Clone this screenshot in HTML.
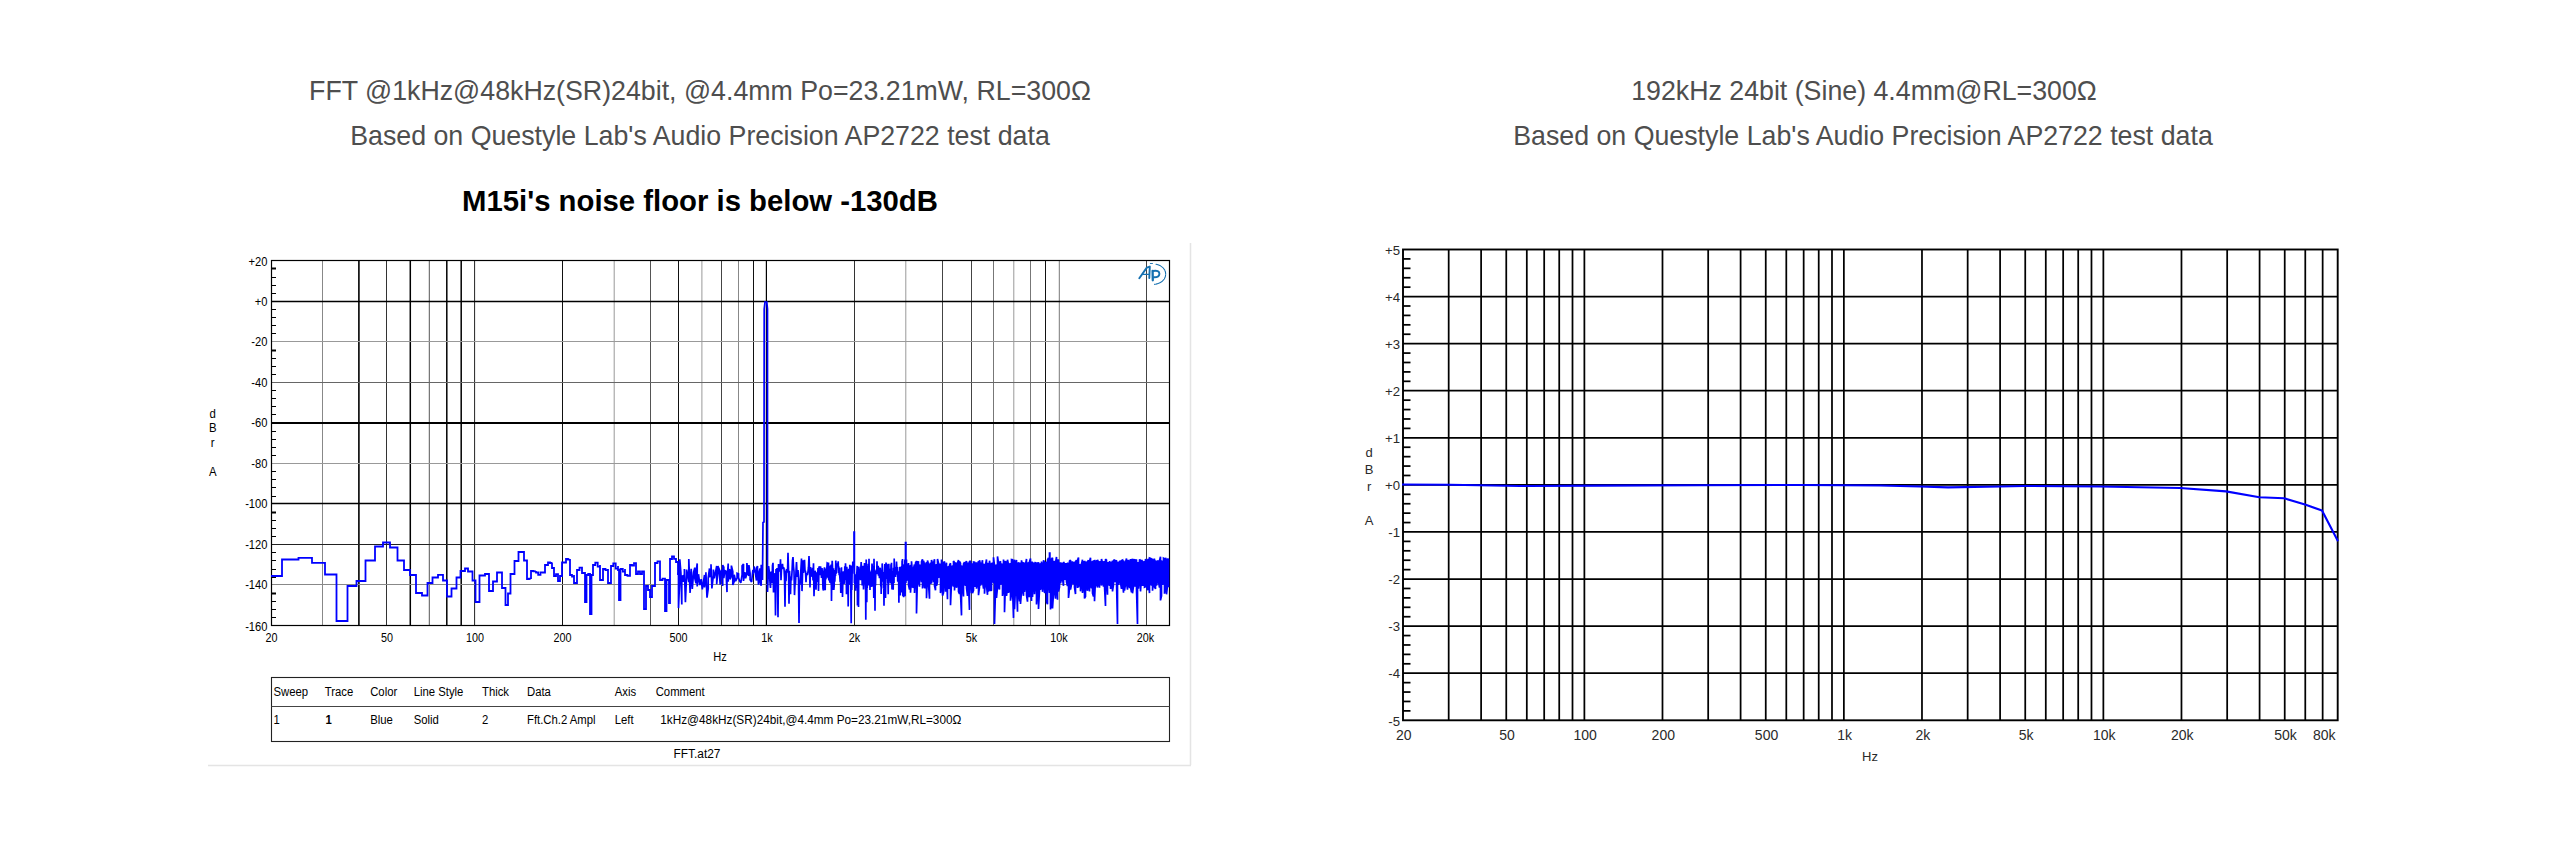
<!DOCTYPE html>
<html><head><meta charset="utf-8"><title>M15i measurements</title>
<style>
html,body{margin:0;padding:0;background:#fff;}
body{width:2560px;height:849px;position:relative;overflow:hidden;font-family:"Liberation Sans",sans-serif;}
.t{position:absolute;white-space:nowrap;color:#4e4e4e;font-size:26.75px;line-height:30px;text-align:center;}
.b{position:absolute;white-space:nowrap;color:#000;font-size:29.3px;font-weight:bold;line-height:34px;text-align:center;}
svg{position:absolute;left:0;top:0;}
svg text{font-family:"Liberation Sans",sans-serif;}
</style></head><body>
<div class="t m" id="t1" style="left:200px;width:1000px;top:76px">FFT @1kHz@48kHz(SR)24bit, @4.4mm Po=23.21mW, RL=300Ω</div>
<div class="t m" id="t2" style="left:200px;width:1000px;top:121px">Based on Questyle Lab's Audio Precision AP2722 test data</div>
<div class="b m" id="t3" style="left:200px;width:1000px;top:184px">M15i's noise floor is below -130dB</div>
<div class="t m" id="t4" style="left:1364px;width:1000px;top:76px">192kHz 24bit (Sine) 4.4mm@RL=300Ω</div>
<div class="t m" id="t5" style="left:1363px;width:1000px;top:121px">Based on Questyle Lab's Audio Precision AP2722 test data</div>
<svg width="2560" height="849" viewBox="0 0 2560 849">
<line x1="208" y1="765.5" x2="1191" y2="765.5" stroke="#e4e4e4" stroke-width="1.5"/>
<line x1="1190.5" y1="243" x2="1190.5" y2="765" stroke="#e4e4e4" stroke-width="1.5"/>
<line x1="322.5" y1="260.5" x2="322.5" y2="625.5" stroke="#888" stroke-width="1"/>
<line x1="358.9" y1="260.5" x2="358.9" y2="625.5" stroke="#000" stroke-width="1.6"/>
<line x1="386.5" y1="260.5" x2="386.5" y2="625.5" stroke="#333" stroke-width="1"/>
<line x1="410.3" y1="260.5" x2="410.3" y2="625.5" stroke="#000" stroke-width="1.5"/>
<line x1="429.3" y1="260.5" x2="429.3" y2="625.5" stroke="#555" stroke-width="1"/>
<line x1="446.8" y1="260.5" x2="446.8" y2="625.5" stroke="#000" stroke-width="1.5"/>
<line x1="461.2" y1="260.5" x2="461.2" y2="625.5" stroke="#000" stroke-width="1.5"/>
<line x1="474.6" y1="260.5" x2="474.6" y2="625.5" stroke="#222" stroke-width="1"/>
<line x1="562.5" y1="260.5" x2="562.5" y2="625.5" stroke="#111" stroke-width="1"/>
<line x1="614.2" y1="260.5" x2="614.2" y2="625.5" stroke="#999" stroke-width="1"/>
<line x1="650.5" y1="260.5" x2="650.5" y2="625.5" stroke="#555" stroke-width="1"/>
<line x1="678.5" y1="260.5" x2="678.5" y2="625.5" stroke="#111" stroke-width="1"/>
<line x1="701.9" y1="260.5" x2="701.9" y2="625.5" stroke="#999" stroke-width="1"/>
<line x1="721.5" y1="260.5" x2="721.5" y2="625.5" stroke="#444" stroke-width="1"/>
<line x1="738.5" y1="260.5" x2="738.5" y2="625.5" stroke="#888" stroke-width="1"/>
<line x1="753.5" y1="260.5" x2="753.5" y2="625.5" stroke="#111" stroke-width="1"/>
<line x1="766.4" y1="260.5" x2="766.4" y2="625.5" stroke="#000" stroke-width="1.2"/>
<line x1="854.5" y1="260.5" x2="854.5" y2="625.5" stroke="#333" stroke-width="1"/>
<line x1="905.8" y1="260.5" x2="905.8" y2="625.5" stroke="#999" stroke-width="1"/>
<line x1="942.5" y1="260.5" x2="942.5" y2="625.5" stroke="#444" stroke-width="1"/>
<line x1="971.5" y1="260.5" x2="971.5" y2="625.5" stroke="#444" stroke-width="1"/>
<line x1="993.5" y1="260.5" x2="993.5" y2="625.5" stroke="#777" stroke-width="1"/>
<line x1="1013.8" y1="260.5" x2="1013.8" y2="625.5" stroke="#999" stroke-width="1"/>
<line x1="1030.5" y1="260.5" x2="1030.5" y2="625.5" stroke="#777" stroke-width="1"/>
<line x1="1045.5" y1="260.5" x2="1045.5" y2="625.5" stroke="#111" stroke-width="1"/>
<line x1="1059.3" y1="260.5" x2="1059.3" y2="625.5" stroke="#777" stroke-width="1"/>
<line x1="1146.5" y1="260.5" x2="1146.5" y2="625.5" stroke="#444" stroke-width="1"/>
<line x1="271.5" y1="301.5" x2="1169.5" y2="301.5" stroke="#000" stroke-width="1.3"/>
<line x1="271.5" y1="341.5" x2="1169.5" y2="341.5" stroke="#999" stroke-width="1"/>
<line x1="271.5" y1="382.5" x2="1169.5" y2="382.5" stroke="#666" stroke-width="1"/>
<line x1="271.5" y1="423" x2="1169.5" y2="423" stroke="#000" stroke-width="2"/>
<line x1="271.5" y1="463.5" x2="1169.5" y2="463.5" stroke="#999" stroke-width="1"/>
<line x1="271.5" y1="503.5" x2="1169.5" y2="503.5" stroke="#000" stroke-width="1.5"/>
<line x1="271.5" y1="544.5" x2="1169.5" y2="544.5" stroke="#222" stroke-width="1"/>
<line x1="271.5" y1="584.5" x2="1169.5" y2="584.5" stroke="#888" stroke-width="1.2"/>
<line x1="271.5" y1="268.5" x2="276" y2="268.5" stroke="#000" stroke-width="2"/>
<line x1="271.5" y1="277.5" x2="276" y2="277.5" stroke="#000" stroke-width="1"/>
<line x1="271.5" y1="285.5" x2="276" y2="285.5" stroke="#000" stroke-width="1"/>
<line x1="271.5" y1="293.5" x2="276" y2="293.5" stroke="#000" stroke-width="1"/>
<line x1="271.5" y1="309.5" x2="276" y2="309.5" stroke="#000" stroke-width="1"/>
<line x1="271.5" y1="317.5" x2="276" y2="317.5" stroke="#000" stroke-width="1"/>
<line x1="271.5" y1="325.5" x2="276" y2="325.5" stroke="#000" stroke-width="1"/>
<line x1="271.5" y1="333.5" x2="276" y2="333.5" stroke="#000" stroke-width="1"/>
<line x1="271.5" y1="350.5" x2="276" y2="350.5" stroke="#000" stroke-width="2"/>
<line x1="271.5" y1="358.5" x2="276" y2="358.5" stroke="#000" stroke-width="1"/>
<line x1="271.5" y1="366.5" x2="276" y2="366.5" stroke="#000" stroke-width="1"/>
<line x1="271.5" y1="374.5" x2="276" y2="374.5" stroke="#000" stroke-width="1"/>
<line x1="271.5" y1="390.5" x2="276" y2="390.5" stroke="#000" stroke-width="1"/>
<line x1="271.5" y1="398.5" x2="276" y2="398.5" stroke="#000" stroke-width="1"/>
<line x1="271.5" y1="406.5" x2="276" y2="406.5" stroke="#000" stroke-width="1"/>
<line x1="271.5" y1="414.5" x2="276" y2="414.5" stroke="#000" stroke-width="1"/>
<line x1="271.5" y1="431.5" x2="276" y2="431.5" stroke="#000" stroke-width="1"/>
<line x1="271.5" y1="439.5" x2="276" y2="439.5" stroke="#000" stroke-width="1"/>
<line x1="271.5" y1="447.5" x2="276" y2="447.5" stroke="#000" stroke-width="1"/>
<line x1="271.5" y1="455.5" x2="276" y2="455.5" stroke="#000" stroke-width="1"/>
<line x1="271.5" y1="471.5" x2="276" y2="471.5" stroke="#000" stroke-width="1"/>
<line x1="271.5" y1="479.5" x2="276" y2="479.5" stroke="#000" stroke-width="1"/>
<line x1="271.5" y1="487.5" x2="276" y2="487.5" stroke="#000" stroke-width="1"/>
<line x1="271.5" y1="496.5" x2="276" y2="496.5" stroke="#000" stroke-width="1"/>
<line x1="271.5" y1="512.5" x2="276" y2="512.5" stroke="#000" stroke-width="2"/>
<line x1="271.5" y1="520.5" x2="276" y2="520.5" stroke="#000" stroke-width="1"/>
<line x1="271.5" y1="528.5" x2="276" y2="528.5" stroke="#000" stroke-width="1"/>
<line x1="271.5" y1="536.5" x2="276" y2="536.5" stroke="#000" stroke-width="1"/>
<line x1="271.5" y1="552.5" x2="276" y2="552.5" stroke="#000" stroke-width="1"/>
<line x1="271.5" y1="560.5" x2="276" y2="560.5" stroke="#000" stroke-width="1"/>
<line x1="271.5" y1="569.5" x2="276" y2="569.5" stroke="#000" stroke-width="1"/>
<line x1="271.5" y1="577.5" x2="276" y2="577.5" stroke="#000" stroke-width="1"/>
<line x1="271.5" y1="593.5" x2="276" y2="593.5" stroke="#000" stroke-width="2"/>
<line x1="271.5" y1="601.5" x2="276" y2="601.5" stroke="#000" stroke-width="1"/>
<line x1="271.5" y1="609.5" x2="276" y2="609.5" stroke="#000" stroke-width="1"/>
<line x1="271.5" y1="617.5" x2="276" y2="617.5" stroke="#000" stroke-width="1"/>
<rect x="271.5" y="260.5" width="898.0" height="365.0" fill="none" stroke="#000" stroke-width="1.2"/>
<text x="267.50" y="266.00" font-size="12" text-anchor="end" fill="#000" font-weight="normal" textLength="18.93" lengthAdjust="spacingAndGlyphs">+20</text>
<text x="267.50" y="305.50" font-size="12" text-anchor="end" fill="#000" font-weight="normal" textLength="12.72" lengthAdjust="spacingAndGlyphs">+0</text>
<text x="267.50" y="346.00" font-size="12" text-anchor="end" fill="#000" font-weight="normal" textLength="16.13" lengthAdjust="spacingAndGlyphs">-20</text>
<text x="267.50" y="386.50" font-size="12" text-anchor="end" fill="#000" font-weight="normal" textLength="16.13" lengthAdjust="spacingAndGlyphs">-40</text>
<text x="267.50" y="427.00" font-size="12" text-anchor="end" fill="#000" font-weight="normal" textLength="16.13" lengthAdjust="spacingAndGlyphs">-60</text>
<text x="267.50" y="467.50" font-size="12" text-anchor="end" fill="#000" font-weight="normal" textLength="16.13" lengthAdjust="spacingAndGlyphs">-80</text>
<text x="267.50" y="508.00" font-size="12" text-anchor="end" fill="#000" font-weight="normal" textLength="22.34" lengthAdjust="spacingAndGlyphs">-100</text>
<text x="267.50" y="548.50" font-size="12" text-anchor="end" fill="#000" font-weight="normal" textLength="22.34" lengthAdjust="spacingAndGlyphs">-120</text>
<text x="267.50" y="589.00" font-size="12" text-anchor="end" fill="#000" font-weight="normal" textLength="22.34" lengthAdjust="spacingAndGlyphs">-140</text>
<text x="267.50" y="630.50" font-size="12" text-anchor="end" fill="#000" font-weight="normal" textLength="22.34" lengthAdjust="spacingAndGlyphs">-160</text>
<text x="271.50" y="641.60" font-size="12" text-anchor="middle" fill="#000" font-weight="normal" textLength="12.01" lengthAdjust="spacingAndGlyphs">20</text>
<text x="387.00" y="641.60" font-size="12" text-anchor="middle" fill="#000" font-weight="normal" textLength="12.01" lengthAdjust="spacingAndGlyphs">50</text>
<text x="475.00" y="641.60" font-size="12" text-anchor="middle" fill="#000" font-weight="normal" textLength="18.02" lengthAdjust="spacingAndGlyphs">100</text>
<text x="562.50" y="641.60" font-size="12" text-anchor="middle" fill="#000" font-weight="normal" textLength="18.02" lengthAdjust="spacingAndGlyphs">200</text>
<text x="678.50" y="641.60" font-size="12" text-anchor="middle" fill="#000" font-weight="normal" textLength="18.02" lengthAdjust="spacingAndGlyphs">500</text>
<text x="767.00" y="641.60" font-size="12" text-anchor="middle" fill="#000" font-weight="normal" textLength="11.41" lengthAdjust="spacingAndGlyphs">1k</text>
<text x="854.50" y="641.60" font-size="12" text-anchor="middle" fill="#000" font-weight="normal" textLength="11.41" lengthAdjust="spacingAndGlyphs">2k</text>
<text x="971.50" y="641.60" font-size="12" text-anchor="middle" fill="#000" font-weight="normal" textLength="11.41" lengthAdjust="spacingAndGlyphs">5k</text>
<text x="1059.00" y="641.60" font-size="12" text-anchor="middle" fill="#000" font-weight="normal" textLength="17.41" lengthAdjust="spacingAndGlyphs">10k</text>
<text x="1145.50" y="641.60" font-size="12" text-anchor="middle" fill="#000" font-weight="normal" textLength="17.41" lengthAdjust="spacingAndGlyphs">20k</text>
<text x="720.00" y="661.00" font-size="12" text-anchor="middle" fill="#000" font-weight="normal" textLength="13.49" lengthAdjust="spacingAndGlyphs">Hz</text>
<text x="212.70" y="417.50" font-size="12" text-anchor="middle" fill="#000" font-weight="normal" textLength="6.34" lengthAdjust="spacingAndGlyphs">d</text>
<text x="212.70" y="432.30" font-size="12" text-anchor="middle" fill="#000" font-weight="normal" textLength="7.60" lengthAdjust="spacingAndGlyphs">B</text>
<text x="212.70" y="447.00" font-size="12" text-anchor="middle" fill="#000" font-weight="normal" textLength="3.80" lengthAdjust="spacingAndGlyphs">r</text>
<text x="212.70" y="476.30" font-size="12" text-anchor="middle" fill="#000" font-weight="normal" textLength="7.60" lengthAdjust="spacingAndGlyphs">A</text>
<rect x="271.5" y="677.5" width="898" height="64" fill="none" stroke="#222" stroke-width="1.1"/>
<line x1="271.5" y1="706.5" x2="1169.5" y2="706.5" stroke="#444" stroke-width="1.1"/>
<text x="273.50" y="696.00" font-size="12.3" text-anchor="start" fill="#000" font-weight="normal" textLength="34.60" lengthAdjust="spacingAndGlyphs">Sweep</text>
<text x="324.80" y="696.00" font-size="12.3" text-anchor="start" fill="#000" font-weight="normal" textLength="28.51" lengthAdjust="spacingAndGlyphs">Trace</text>
<text x="370.20" y="696.00" font-size="12.3" text-anchor="start" fill="#000" font-weight="normal" textLength="27.04" lengthAdjust="spacingAndGlyphs">Color</text>
<text x="413.70" y="696.00" font-size="12.3" text-anchor="start" fill="#000" font-weight="normal" textLength="49.70" lengthAdjust="spacingAndGlyphs">Line Style</text>
<text x="482.00" y="696.00" font-size="12.3" text-anchor="start" fill="#000" font-weight="normal" textLength="27.04" lengthAdjust="spacingAndGlyphs">Thick</text>
<text x="527.00" y="696.00" font-size="12.3" text-anchor="start" fill="#000" font-weight="normal" textLength="23.90" lengthAdjust="spacingAndGlyphs">Data</text>
<text x="614.70" y="696.00" font-size="12.3" text-anchor="start" fill="#000" font-weight="normal" textLength="21.38" lengthAdjust="spacingAndGlyphs">Axis</text>
<text x="655.70" y="696.00" font-size="12.3" text-anchor="start" fill="#000" font-weight="normal" textLength="49.05" lengthAdjust="spacingAndGlyphs">Comment</text>
<text x="273.50" y="723.70" font-size="12.3" text-anchor="start" fill="#000" font-weight="normal" textLength="6.29" lengthAdjust="spacingAndGlyphs">1</text>
<text x="325.50" y="723.70" font-size="12.3" text-anchor="start" fill="#000" font-weight="bold" textLength="6.29" lengthAdjust="spacingAndGlyphs">1</text>
<text x="370.20" y="723.70" font-size="12.3" text-anchor="start" fill="#000" font-weight="normal" textLength="22.65" lengthAdjust="spacingAndGlyphs">Blue</text>
<text x="413.70" y="723.70" font-size="12.3" text-anchor="start" fill="#000" font-weight="normal" textLength="25.16" lengthAdjust="spacingAndGlyphs">Solid</text>
<text x="482.00" y="723.70" font-size="12.3" text-anchor="start" fill="#000" font-weight="normal" textLength="6.29" lengthAdjust="spacingAndGlyphs">2</text>
<text x="527.00" y="723.70" font-size="12.3" text-anchor="start" fill="#000" font-weight="normal" textLength="68.55" lengthAdjust="spacingAndGlyphs">Fft.Ch.2 Ampl</text>
<text x="614.70" y="723.70" font-size="12.3" text-anchor="start" fill="#000" font-weight="normal" textLength="18.87" lengthAdjust="spacingAndGlyphs">Left</text>
<text x="660.30" y="723.70" font-size="12.3" text-anchor="start" fill="#000" font-weight="normal" textLength="301.00" lengthAdjust="spacingAndGlyphs">1kHz@48kHz(SR)24bit,@4.4mm Po=23.21mW,RL=300Ω</text>
<text x="697.00" y="757.70" font-size="12.3" text-anchor="middle" fill="#000" font-weight="normal" textLength="47.00" lengthAdjust="spacingAndGlyphs">FFT.at27</text>
<g fill="none" stroke="#1570b0" stroke-linecap="round" stroke-linejoin="round">
<path d="M1139.3 278.3 L1146.8 267.6 L1149.8 266.6 L1149.3 278" stroke-width="1.9"/>
<path d="M1143.2 274.3 L1149.4 274.3" stroke-width="1.2"/>
<path d="M1152.6 270.8 L1152.8 280.3" stroke-width="2.3"/>
<path d="M1153 271 Q1159.3 269.8 1159.4 273.8 Q1159 277.5 1154 277.3" stroke-width="1.9"/>
<path d="M1156 264.2 Q1165.6 266.5 1165.7 274.5 Q1165 282.5 1154.6 284.4" stroke-width="1.1" stroke-dasharray="4 0.8 6 0.8 3 1"/>
<path d="M1150.3 263.5 L1152.5 263.5" stroke-width="0.9"/>
</g>
<path d="M271.0 576.0 L282.0 576.0 L282.0 559.5 L298.5 559.5 L298.5 557.8 L312.0 557.8 L312.0 562.8 L325.0 562.8 L325.0 574.5 L336.5 574.5 L336.5 621.0 L347.5 621.0 L347.5 586.0 L356.5 586.0 L356.5 581.0 L365.5 581.0 L365.5 560.5 L375.0 560.5 L375.0 546.5 L383.0 546.5 L383.0 542.5 L390.0 542.5 L390.0 547.5 L397.5 547.5 L397.5 560.5 L404.0 560.5 L404.0 570.0 L410.0 570.0 L410.0 575.0 L416.0 575.0 L416.0 593.0 L422.0 593.0 L422.0 595.5 L427.5 595.5 L427.5 583.0 L432.5 583.0 L432.5 577.5 L438.0 577.5 L438.0 574.8 L443.0 574.8 L443.0 580.5 L447.0 580.5 L447.0 596.5 L451.5 596.5 L451.5 588.5 L456.5 588.5 L456.5 577.5 L460.5 577.5 L460.5 571.0 L465.0 571.0 L465.0 568.5 L468.0 568.5 L468.0 571.5 L472.5 571.5 L472.5 580.5 L475.5 580.5 L475.5 602.0 L479.5 602.0 L479.5 575.5 L485.0 575.5 L485.0 574.0 L489.0 574.0 L489.0 591.0 L493.0 591.0 L493.0 581.5 L497.0 581.5 L497.0 572.5 L502.0 572.5 L502.0 588.0 L505.5 588.0 L505.5 605.0 L508.0 605.0 L508.0 593.5 L510.5 593.5 L510.5 574.0 L514.5 574.0 L514.5 561.0 L518.5 561.0 L518.5 552.0 L524.0 552.0 L524.0 560.5 L527.0 560.5 L527.0 560.5 L527.0 560.5 L527.0 579.0 L529.0 579.0 L529.0 578.7 L531.0 578.7 L531.0 579.0 L531.0 579.0 L531.0 571.0 L533.5 571.0 L533.5 571.3 L536.0 571.3 L536.0 571.0 L536.0 571.0 L536.0 572.5 L538.2 572.5 L538.2 574.9 L540.5 574.9 L540.5 572.3 L542.8 572.3 L542.8 572.5 L545.0 572.5 L545.0 572.5 L545.0 572.5 L545.0 565.0 L548.0 565.0 L548.0 565.0 L548.0 565.0 L548.0 562.5 L550.0 562.5 L550.0 563.0 L552.0 563.0 L552.0 562.5 L552.0 562.5 L552.0 568.0 L554.0 568.0 L554.0 576.0 L556.0 576.0 L556.0 574.2 L558.0 574.2 L558.0 576.0 L558.0 576.0 L558.0 581.0 L560.0 581.0 L560.0 576.0 L562.0 576.0 L562.0 562.5 L564.0 562.5 L564.0 562.6 L566.0 562.6 L566.0 562.5 L566.0 562.5 L566.0 559.0 L568.0 559.0 L568.0 559.7 L570.0 559.7 L570.0 559.0 L570.0 559.0 L570.0 575.0 L572.0 575.0 L572.0 576.6 L574.0 576.6 L574.0 575.0 L574.0 575.0 L574.0 583.0 L577.0 583.0 L577.0 583.0 L577.0 583.0 L577.0 570.0 L579.5 570.0 L579.5 567.7 L582.0 567.7 L582.0 570.0 L582.0 570.0 L582.0 573.0 L585.0 573.0 L585.0 573.0 L585.0 573.0 L585.0 602.0 L586.5 602.0 L586.5 575.0 L588.2 575.0 L588.2 573.9 L590.0 573.9 L590.0 575.0 L590.0 575.0 L590.0 614.0 L591.5 614.0 L591.5 575.0 L593.0 575.0 L593.0 565.0 L595.3 565.0 L595.3 562.7 L597.7 562.7 L597.7 566.7 L600.0 566.7 L600.0 565.0 L600.0 565.0 L600.0 580.0 L603.0 580.0 L603.0 580.0 L603.0 580.0 L603.0 569.0 L605.5 569.0 L605.5 570.1 L608.0 570.1 L608.0 569.0 L608.0 569.0 L608.0 583.0 L611.0 583.0 L611.0 583.0 L611.0 583.0 L611.0 566.0 L613.3 566.0 L613.3 563.4 L615.7 563.4 L615.7 568.7 L618.0 568.7 L618.0 566.0 L618.0 566.0 L618.0 570.0 L619.0 570.0 L619.0 600.0 L620.5 600.0 L620.5 569.0 L622.8 569.0 L622.8 571.6 L625.0 571.6 L625.0 569.0 L625.0 569.0 L625.0 575.0 L627.5 575.0 L627.5 575.9 L630.0 575.9 L630.0 575.0 L630.0 575.0 L630.0 565.0 L632.0 565.0 L632.0 565.6 L634.0 565.6 L634.0 563.1 L636.0 563.1 L636.0 565.0 L636.0 565.0 L636.0 574.0 L638.0 574.0 L638.0 571.3 L640.0 571.3 L640.0 574.2 L642.0 574.2 L642.0 571.5 L644.0 571.5 L644.0 574.0 L644.0 574.0 L644.0 609.0 L646.0 609.0 L646.0 586.0 L648.0 586.0 L648.0 590.0 L650.0 590.0 L650.0 597.0 L652.0 597.0 L652.0 586.0 L655.0 586.0 L655.0 586.0 L655.0 586.0 L655.0 563.0 L657.5 563.0 L657.5 561.3 L660.0 561.3 L660.0 563.0 L660.0 563.0 L660.0 580.0 L662.5 580.0 L662.5 578.6 L665.0 578.6 L665.0 580.0 L665.0 580.0 L665.0 611.0 L666.5 611.0 L666.5 580.0 L669.0 580.0 L669.0 603.0 L670.0 603.0 L670.0 559.0 L672.0 559.0 L672.0 556.4 L674.0 556.4 L674.0 558.8 L676.0 558.8 L676.0 559.0 L676.0 559.0 L676.0 562.0 L678.0 562.0 L678.0 575.0" fill="none" stroke="#0000ff" stroke-width="1.8" stroke-linejoin="miter" stroke-miterlimit="2"/>
<path d="M678.0 575.0 L678.5 572.3 L678.5 608.1 L679.8 578.1 L679.8 559.3 L680.9 572.8 L680.9 572.8 L681.8 604.6 L681.8 576.4 L683.3 575.6 L683.3 581.8 L684.4 577.7 L684.4 569.1 L685.4 602.2 L685.4 602.2 L686.6 575.1 L686.6 569.6 L687.9 576.2 L687.9 576.2 L688.8 582.2 L688.8 559.1 L690.1 592.9 L690.1 592.9 L691.2 568.8 L691.2 568.8 L692.3 588.9 L692.3 588.9 L693.6 572.1 L693.6 572.1 L694.8 567.6 L694.8 578.2 L696.0 583.4 L696.0 573.0 L697.2 563.4 L697.2 586.5 L698.5 575.6 L698.5 574.2 L699.9 585.1 L699.9 585.1 L701.2 579.1 L701.2 579.1 L702.3 589.4 L702.3 589.4 L703.3 582.7 L703.3 582.7 L704.5 575.0 L704.5 587.4 L705.9 574.5 L705.9 572.3 L707.0 597.6 L707.0 597.6 L708.2 588.8 L708.2 578.0 L709.5 568.4 L709.5 577.2 L711.0 574.0 L711.0 564.3 L711.9 588.4 L711.9 588.4 L713.4 575.2 L713.4 569.6 L714.3 578.2 L714.3 578.2 L715.2 574.0 L715.2 574.0 L716.7 565.9 L716.7 584.2 L717.9 571.0 L717.9 566.1 L719.2 569.2 L719.2 571.5 L720.2 584.6 L720.2 572.4 L721.6 570.0 L721.6 570.0 L722.7 585.9 L722.7 565.0 L723.8 567.3 L723.8 578.0 L724.9 570.6 L724.9 570.6 L726.0 571.3 L726.0 571.3 L727.0 592.1 L727.0 580.4 L728.2 563.6 L728.2 581.7 L729.2 569.2 L729.2 569.2 L730.1 570.3 L730.1 579.3 L731.4 576.2 L731.4 565.6 L732.8 571.6 L732.8 584.9 L734.2 581.5 L734.2 574.7 L735.6 581.2 L735.6 581.2 L737.1 578.0 L737.1 573.3 L738.5 573.9 L738.5 577.4 L739.6 581.0 L739.6 581.0 L740.8 582.8 L740.8 582.8 L742.1 574.6 L742.1 565.8 L743.5 564.1 L743.5 580.9 L744.5 573.5 L744.5 572.8 L745.6 573.1 L745.6 578.4 L746.9 573.3 L746.9 563.0 L748.0 574.2 L748.0 574.2 L748.9 575.8 L748.9 565.1 L750.1 573.5 L750.1 579.7 L751.6 581.9 L751.6 581.9 L752.9 569.8 L752.9 574.0 L754.1 569.9 L754.1 566.4 L755.4 573.3 L755.4 573.3 L756.5 580.5 L756.5 568.0 L757.5 566.1 L757.5 568.7 L758.5 584.8 L758.5 576.3 L760.0 568.3 L760.0 581.7 L761.2 585.8 L761.2 565.5 L762.5 565.5 L762.5 580.0 L763.0 522.5 L764.0 522.0 L764.2 309.0 L765.0 302.0 L766.8 302.0 L767.5 309.0 L767.5 592.0 L768.6 566.0 L769.5 573.4 L770.0 583.0 L770.5 588.0 L771.0 572.3 L771.5 571.9 L772.0 583.2 L772.5 565.6 L773.0 562.8 L773.5 592.5 L774.0 574.3 L774.5 577.9 L775.0 573.1 L775.5 615.4 L776.0 569.0 L776.5 583.4 L777.0 568.1 L777.5 582.7 L778.0 617.3 L778.5 564.1 L779.0 568.9 L779.5 570.6 L780.0 571.2 L780.5 559.3 L781.0 580.2 L781.5 568.0 L782.0 566.3 L782.5 563.9 L783.0 569.1 L783.5 567.5 L784.0 568.5 L784.5 577.5 L785.0 606.8 L785.5 570.4 L786.0 581.2 L786.5 569.8 L787.0 569.9 L787.5 572.7 L788.0 552.8 L788.5 569.0 L789.0 603.8 L789.5 570.9 L790.0 580.2 L790.5 594.2 L791.0 576.5 L791.5 580.4 L792.0 572.3 L792.5 560.7 L793.0 557.1 L793.5 566.5 L794.0 571.3 L794.5 595.1 L795.0 584.5 L795.5 584.0 L796.0 571.0 L796.5 562.0 L797.0 572.8 L797.5 576.8 L798.0 570.0 L798.5 579.3 L799.0 623.0 L799.5 580.7 L800.0 584.7 L800.5 576.1 L801.0 567.9 L801.5 558.5 L802.0 591.1 L802.5 575.1 L803.0 560.2 L803.5 572.9 L804.0 568.5 L804.5 559.7 L805.0 571.1 L805.5 570.7 L806.0 582.3 L806.5 572.8 L807.0 574.8 L807.5 574.5 L808.0 571.6 L808.5 567.2 L809.0 556.1 L809.5 568.2 L810.0 587.4 L810.5 567.1 L811.0 577.0 L811.5 569.3 L812.0 571.4 L812.5 567.8 L813.0 580.5 L813.5 563.3 L814.0 596.2 L814.5 579.7 L815.0 570.7 L815.5 572.5 L816.0 589.7 L816.5 572.3 L817.0 576.6 L817.5 582.0 L818.0 568.0 L818.5 591.0 L819.0 566.5 L819.5 567.4 L820.0 575.2 L820.5 566.4 L821.0 570.0 L821.5 578.0 L822.0 568.0 L822.5 575.2 L823.0 588.8 L823.5 590.5 L823.8 572.0 L824.2 569.3 L824.5 567.3 L824.8 581.9 L825.2 590.2 L825.5 568.5 L825.8 579.3 L826.2 577.0 L826.5 576.8 L826.8 568.8 L827.2 563.1 L827.5 563.3 L827.8 566.6 L828.2 578.2 L828.5 562.5 L828.8 580.5 L829.2 576.8 L829.5 576.0 L829.8 582.7 L830.2 566.8 L830.5 565.8 L830.8 583.6 L831.2 564.5 L831.5 600.9 L831.8 572.4 L832.2 560.7 L832.5 566.6 L832.8 572.4 L833.2 590.0 L833.5 568.2 L833.8 589.9 L834.2 585.4 L834.5 570.1 L834.8 581.6 L835.2 572.9 L835.5 576.0 L835.8 560.6 L836.2 573.6 L836.5 568.5 L836.8 563.3 L837.2 566.0 L837.5 565.3 L837.8 565.8 L838.2 561.3 L838.5 572.9 L838.8 566.6 L839.2 575.3 L839.5 568.1 L839.8 576.5 L840.2 582.3 L840.5 579.0 L840.8 592.9 L841.2 587.3 L841.5 567.3 L841.8 592.4 L842.2 571.5 L842.5 596.9 L842.8 583.2 L843.2 581.0 L843.5 571.3 L843.8 583.2 L844.2 583.8 L844.5 578.4 L844.8 566.3 L845.2 580.1 L845.5 563.3 L845.8 572.4 L846.2 573.8 L846.5 594.3 L846.8 566.7 L847.2 572.8 L847.5 579.6 L847.8 569.9 L848.2 606.6 L848.5 576.6 L848.8 568.7 L849.2 584.6 L849.5 578.1 L849.8 564.8 L850.2 570.4 L850.5 579.9 L850.8 585.0 L851.2 623.3 L851.5 565.5 L851.8 590.1 L852.2 568.6 L852.5 573.9 L852.8 561.4 L853.2 565.2 L853.5 567.0 L853.8 563.2 L854.2 566.0 L854.0 566.0 L854.0 532.0 L854.4 532.0 L854.4 583.0 L854.5 572.4 L854.8 584.6 L855.2 578.4 L855.5 590.8 L855.8 574.2 L856.2 577.0 L856.5 588.0 L856.8 574.3 L857.2 565.9 L857.5 605.6 L857.8 568.8 L858.2 572.0 L858.5 606.9 L858.8 566.7 L859.2 570.8 L859.5 576.5 L859.8 578.8 L860.2 576.1 L860.5 580.2 L860.8 568.3 L861.2 562.0 L861.5 568.5 L861.8 566.0 L862.2 585.6 L862.5 569.5 L862.8 583.4 L863.2 565.7 L863.5 589.4 L863.8 584.6 L864.2 575.7 L864.5 563.1 L864.8 573.2 L865.2 567.5 L865.5 576.2 L865.8 619.7 L866.0 575.9 L866.2 559.4 L866.5 569.9 L866.8 602.3 L867.0 577.5 L867.2 588.0 L867.5 573.2 L867.8 566.1 L868.0 584.6 L868.2 563.7 L868.5 577.2 L868.8 585.5 L869.0 558.8 L869.2 568.7 L869.5 582.6 L869.8 570.6 L870.0 590.0 L870.2 571.7 L870.5 577.8 L870.8 576.9 L871.0 586.7 L871.2 585.9 L871.5 572.4 L871.8 572.1 L872.0 563.5 L872.2 566.2 L872.5 586.8 L872.8 579.1 L873.0 580.8 L873.2 565.9 L873.5 572.3 L873.8 597.9 L874.0 558.8 L874.2 569.9 L874.5 569.6 L874.8 576.4 L875.0 610.8 L875.2 582.5 L875.5 585.5 L875.8 571.9 L876.0 573.0 L876.2 571.9 L876.5 570.3 L876.8 569.7 L877.0 561.2 L877.2 574.1 L877.5 570.7 L877.8 567.7 L878.0 573.8 L878.2 565.7 L878.5 575.6 L878.8 571.9 L879.0 572.8 L879.2 575.1 L879.5 578.1 L879.8 568.4 L880.0 568.3 L880.2 567.8 L880.5 571.3 L880.8 586.6 L881.0 573.4 L881.2 593.9 L881.5 572.8 L881.8 578.5 L882.0 581.0 L882.2 563.4 L882.5 569.8 L882.8 575.3 L883.0 581.6 L883.2 571.9 L883.5 588.6 L883.8 586.7 L884.0 605.8 L884.2 580.7 L884.5 578.0 L884.8 564.0 L885.0 575.9 L885.2 571.5 L885.5 598.1 L885.8 578.5 L886.0 562.5 L886.2 574.1 L886.5 578.9 L886.8 563.9 L887.0 565.7 L887.2 574.1 L887.5 564.5 L887.8 582.4 L888.0 582.9 L888.2 594.3 L888.5 568.4 L888.8 563.8 L889.0 568.7 L889.2 569.1 L889.5 574.7 L889.8 581.5 L890.0 568.8 L890.2 583.4 L890.5 569.8 L890.8 576.6 L891.0 564.3 L891.2 581.3 L891.5 562.8 L891.8 579.5 L892.0 589.4 L892.2 574.9 L892.5 572.7 L892.8 571.2 L893.0 580.4 L893.2 589.7 L893.5 567.8 L893.8 579.4 L894.0 583.1 L894.2 558.6 L894.5 574.3 L894.8 576.3 L895.0 573.4 L895.2 572.2 L895.5 577.0 L895.8 567.1 L896.0 573.3 L896.2 569.4 L896.5 561.6 L896.8 567.2 L897.0 571.0 L897.2 574.8 L897.5 567.0 L897.7 581.0 L897.9 581.6 L898.1 573.5 L898.3 571.3 L898.5 571.8 L898.7 583.4 L898.9 602.7 L899.1 575.0 L899.3 580.0 L899.5 591.2 L899.7 571.9 L899.9 566.9 L900.1 585.3 L900.3 595.6 L900.5 570.7 L900.7 579.9 L900.9 589.5 L901.1 583.9 L901.3 584.5 L901.5 565.9 L901.7 592.6 L901.9 576.8 L902.1 560.4 L902.3 573.7 L902.5 558.9 L902.7 574.5 L902.9 596.2 L903.1 564.2 L903.3 576.1 L903.5 575.2 L903.7 597.3 L903.9 567.6 L904.1 581.2 L904.3 572.3 L904.5 574.3 L904.7 576.8 L904.9 559.5 L905.1 596.2 L905.3 570.1 L905.5 577.4 L905.7 565.0 L905.9 564.3 L906.1 576.1 L906.3 576.4 L905.5 576.4 L905.5 542.5 L905.9 542.5 L905.9 583.0 L906.5 559.4 L906.5 580.3 L907.5 579.6 L907.5 568.1 L908.5 563.1 L908.5 584.9 L909.5 589.5 L909.5 567.9 L910.5 565.1 L910.5 592.8 L911.5 578.4 L911.5 561.2 L912.5 573.2 L912.5 587.0 L913.5 587.6 L913.5 568.3 L914.5 564.5 L914.5 593.0 L915.5 576.6 L915.5 562.9 L916.5 561.1 L916.5 613.5 L917.5 575.7 L917.5 561.7 L918.5 561.9 L918.5 580.5 L919.5 586.7 L919.5 565.0 L920.5 565.6 L920.5 575.2 L921.5 582.2 L921.5 561.6 L922.5 559.3 L922.5 588.4 L923.5 579.9 L923.5 560.8 L924.5 564.4 L924.5 588.1 L925.5 587.3 L925.5 565.1 L926.5 562.2 L926.5 598.2 L927.5 573.7 L927.5 560.4 L928.5 564.1 L928.5 584.1 L929.5 598.8 L929.5 567.6 L930.5 562.7 L930.5 583.1 L931.5 582.8 L931.5 559.9 L932.5 563.3 L932.5 574.1 L933.5 582.1 L933.5 563.1 L934.5 559.3 L934.5 585.7 L935.5 590.2 L935.5 565.1 L936.5 564.8 L936.5 585.9 L937.5 582.0 L937.5 559.0 L938.5 563.2 L938.5 577.8 L939.5 576.2 L939.5 564.4 L940.5 564.3 L940.5 593.1 L941.5 586.4 L941.5 559.5 L942.5 567.6 L942.5 595.6 L943.5 592.9 L943.5 562.8 L944.5 561.6 L944.5 578.3 L945.5 591.8 L945.5 567.7 L946.5 562.7 L946.5 575.3 L947.5 599.2 L947.5 567.5 L948.5 566.6 L948.5 587.8 L949.5 588.5 L949.5 565.2 L950.5 563.2 L950.5 605.2 L951.5 582.8 L951.5 568.9 L952.5 565.6 L952.5 583.3 L953.5 586.6 L953.5 560.9 L954.5 562.6 L954.5 590.5 L955.5 577.4 L955.5 562.5 L956.5 564.9 L956.5 587.7 L957.5 583.0 L957.5 562.8 L958.5 560.0 L958.5 591.6 L959.5 594.0 L959.5 561.4 L960.5 563.2 L960.5 592.9 L961.5 615.4 L961.5 565.8 L962.5 566.7 L962.5 585.3 L963.5 596.4 L963.5 563.9 L964.5 562.1 L964.5 581.6 L965.5 585.9 L965.5 562.7 L966.5 561.1 L966.5 588.0 L967.5 595.8 L967.5 563.9 L968.5 562.7 L968.5 583.9 L969.5 609.9 L969.5 561.6 L970.5 561.0 L970.5 579.1 L971.5 593.2 L971.5 563.3 L972.5 565.1 L972.5 593.2 L973.5 590.4 L973.5 562.0 L974.5 562.2 L974.5 586.0 L975.5 585.9 L975.5 564.6 L976.5 562.4 L976.5 588.7 L977.5 582.5 L977.5 564.8 L978.5 561.2 L978.5 595.2 L979.5 587.1 L979.5 560.2 L980.5 564.4 L980.5 585.5 L981.5 582.6 L981.5 564.9 L982.5 560.2 L982.5 580.9 L983.5 588.6 L983.5 563.8 L984.5 565.6 L984.5 593.8 L985.5 578.1 L985.5 564.6 L986.5 559.4 L986.5 585.6 L987.5 594.8 L987.5 564.2 L988.5 563.2 L988.5 591.5 L989.5 588.4 L989.5 560.7 L990.5 567.2 L990.5 590.8 L991.5 590.1 L991.5 563.8 L992.5 563.0 L992.5 579.5 L993.5 582.9 L993.5 557.3 L994.5 565.3 L994.5 624.0 L995.5 590.4 L995.5 566.0 L996.5 564.7 L996.5 598.0 L997.5 587.2 L997.5 556.5 L998.5 563.1 L998.5 586.6 L999.5 589.5 L999.5 562.6 L1000.5 561.3 L1000.5 584.0 L1001.5 583.6 L1001.5 563.6 L1002.5 565.1 L1002.5 595.9 L1003.5 588.6 L1003.5 559.6 L1004.5 565.6 L1004.5 612.2 L1005.5 582.4 L1005.5 561.1 L1006.5 562.9 L1006.5 595.8 L1007.5 588.1 L1007.5 559.7 L1008.5 564.8 L1008.5 592.9 L1009.5 588.3 L1009.5 564.4 L1010.5 563.2 L1010.5 600.7 L1011.5 594.3 L1011.5 559.6 L1012.5 559.8 L1012.5 586.9 L1013.5 617.9 L1013.5 563.9 L1014.5 559.8 L1014.5 609.3 L1015.5 587.6 L1015.5 565.1 L1016.5 560.0 L1016.5 586.0 L1017.5 611.8 L1017.5 566.1 L1018.5 562.3 L1018.5 591.6 L1019.5 601.4 L1019.5 563.8 L1020.5 562.9 L1020.5 603.9 L1021.5 591.9 L1021.5 560.3 L1022.5 565.1 L1022.5 588.5 L1023.5 595.8 L1023.5 562.9 L1024.5 563.3 L1024.5 592.0 L1025.5 584.7 L1025.5 564.6 L1026.5 558.9 L1026.5 595.0 L1027.5 601.7 L1027.5 564.0 L1028.5 562.6 L1028.5 595.7 L1029.5 597.0 L1029.5 561.7 L1030.5 558.6 L1030.5 584.8 L1031.5 601.0 L1031.5 562.7 L1032.5 561.9 L1032.5 597.0 L1033.5 577.7 L1033.5 565.9 L1034.5 562.5 L1034.5 594.3 L1035.5 582.5 L1035.5 562.8 L1036.5 563.3 L1036.5 604.5 L1037.5 592.4 L1037.5 563.0 L1038.5 562.9 L1038.5 609.0 L1039.5 589.9 L1039.5 565.2 L1040.5 563.4 L1040.5 589.9 L1041.5 585.5 L1041.5 561.6 L1042.5 566.8 L1042.5 591.8 L1043.5 583.0 L1043.5 560.3 L1044.5 562.4 L1044.5 592.8 L1045.5 592.0 L1045.5 563.9 L1046.5 561.8 L1046.5 602.0 L1047.5 604.2 L1047.5 560.0 L1048.5 558.0 L1048.5 582.3 L1049.5 593.0 L1049.5 560.9 L1049.5 560.9 L1049.5 553.0 L1049.9 553.0 L1049.9 583.0 L1050.5 563.4 L1050.5 609.5 L1051.5 601.4 L1051.5 559.1 L1052.5 557.8 L1052.5 608.5 L1053.5 593.8 L1053.5 562.2 L1054.5 561.2 L1054.5 587.5 L1055.5 598.7 L1055.5 562.9 L1056.5 556.9 L1056.5 584.5 L1057.5 599.8 L1057.5 560.5 L1058.5 559.8 L1058.5 591.5 L1059.5 587.2 L1059.5 563.2 L1060.5 563.2 L1060.5 583.4 L1061.5 579.1 L1061.5 562.8 L1062.5 564.6 L1062.5 578.4 L1063.5 585.8 L1063.5 561.9 L1064.5 563.8 L1064.5 579.0 L1065.5 579.3 L1065.5 563.8 L1066.5 563.8 L1066.5 581.8 L1067.5 586.0 L1067.5 562.8 L1068.5 564.5 L1068.5 597.9 L1069.5 588.5 L1069.5 561.0 L1070.5 560.0 L1070.5 589.5 L1071.5 584.5 L1071.5 563.4 L1072.5 561.4 L1072.5 581.4 L1073.5 584.3 L1073.5 563.1 L1074.5 562.2 L1074.5 587.2 L1075.5 594.1 L1075.5 561.6 L1076.5 560.3 L1076.5 576.9 L1077.5 588.0 L1077.5 560.1 L1078.5 557.5 L1078.5 587.2 L1079.5 582.8 L1079.5 564.2 L1080.5 565.6 L1080.5 591.3 L1081.5 583.2 L1081.5 564.0 L1082.5 559.7 L1082.5 593.0 L1083.5 586.1 L1083.5 562.0 L1084.5 561.7 L1084.5 598.4 L1085.5 596.5 L1085.5 561.7 L1086.5 563.2 L1086.5 586.0 L1087.5 590.7 L1087.5 561.5 L1088.5 560.2 L1088.5 582.7 L1089.5 591.5 L1089.5 561.3 L1090.5 557.7 L1090.5 584.6 L1091.5 588.2 L1091.5 563.1 L1092.5 561.1 L1092.5 593.1 L1093.5 596.5 L1093.5 561.2 L1094.5 560.8 L1094.5 601.3 L1095.5 579.5 L1095.5 563.2 L1096.5 560.3 L1096.5 583.8 L1097.5 587.5 L1097.5 559.8 L1098.5 562.1 L1098.5 580.1 L1099.5 587.7 L1099.5 562.0 L1100.5 561.4 L1100.5 577.1 L1101.5 585.6 L1101.5 558.9 L1102.5 563.0 L1102.5 577.1 L1103.5 586.6 L1103.5 562.0 L1104.5 561.8 L1104.5 586.2 L1105.5 606.0 L1105.5 559.2 L1106.5 560.1 L1106.5 581.0 L1107.5 594.8 L1107.5 562.9 L1108.5 562.7 L1108.5 582.2 L1109.5 585.8 L1109.5 561.2 L1110.5 563.2 L1110.5 588.8 L1111.5 587.4 L1111.5 563.3 L1112.5 560.9 L1112.5 591.4 L1113.5 584.7 L1113.5 560.7 L1114.5 559.5 L1114.5 582.1 L1115.5 580.8 L1115.5 561.3 L1116.5 560.2 L1116.5 582.1 L1117.5 624.0 L1117.5 562.0 L1118.5 563.8 L1118.5 584.9 L1119.5 579.7 L1119.5 560.9 L1120.5 561.7 L1120.5 582.8 L1121.5 588.9 L1121.5 560.5 L1122.5 560.1 L1122.5 580.9 L1123.5 592.8 L1123.5 560.6 L1124.5 563.3 L1124.5 590.5 L1125.5 584.2 L1125.5 562.3 L1126.5 558.4 L1126.5 583.3 L1127.5 589.7 L1127.5 561.0 L1128.5 560.3 L1128.5 582.7 L1129.5 588.0 L1129.5 563.8 L1130.5 559.1 L1130.5 587.1 L1131.5 592.4 L1131.5 560.4 L1132.5 558.9 L1132.5 593.3 L1133.5 586.5 L1133.5 559.6 L1134.5 559.7 L1134.5 584.6 L1135.5 586.6 L1135.5 560.6 L1136.5 559.5 L1136.5 589.6 L1137.5 624.0 L1137.5 563.1 L1138.5 562.5 L1138.5 588.7 L1139.5 578.7 L1139.5 559.4 L1140.5 560.5 L1140.5 591.4 L1141.5 577.7 L1141.5 559.9 L1142.5 561.6 L1142.5 585.1 L1143.5 585.0 L1143.5 562.8 L1144.5 561.2 L1144.5 587.2 L1145.5 586.7 L1145.5 559.1 L1146.5 561.6 L1146.5 582.5 L1147.5 590.3 L1147.5 560.2 L1148.5 559.1 L1148.5 581.8 L1149.5 593.1 L1149.5 558.0 L1150.5 558.4 L1150.5 582.7 L1151.5 585.5 L1151.5 558.6 L1152.5 560.0 L1152.5 590.7 L1153.5 582.3 L1153.5 560.3 L1154.5 558.7 L1154.5 586.9 L1155.5 589.0 L1155.5 561.1 L1156.5 561.6 L1156.5 585.6 L1157.5 581.1 L1157.5 560.5 L1158.5 561.5 L1158.5 581.5 L1159.5 587.7 L1159.5 560.5 L1160.5 556.8 L1160.5 600.4 L1161.5 595.9 L1161.5 561.1 L1162.5 561.5 L1162.5 584.2 L1163.5 583.9 L1163.5 558.2 L1164.5 558.7 L1164.5 593.7 L1165.5 587.9 L1165.5 557.7 L1166.5 560.3 L1166.5 594.3 L1167.5 585.7 L1167.5 558.7 L1168.5 559.5 L1168.5 586.5 L1169.5 586.5" fill="none" stroke="#0000ff" stroke-width="1.7" stroke-linejoin="miter" stroke-miterlimit="2"/>
<line x1="1448.69" y1="249.5" x2="1448.69" y2="720.3" stroke="#000" stroke-width="1.75"/>
<line x1="1481.11" y1="249.5" x2="1481.11" y2="720.3" stroke="#000" stroke-width="1.75"/>
<line x1="1506.26" y1="249.5" x2="1506.26" y2="720.3" stroke="#000" stroke-width="1.75"/>
<line x1="1526.81" y1="249.5" x2="1526.81" y2="720.3" stroke="#000" stroke-width="1.75"/>
<line x1="1544.18" y1="249.5" x2="1544.18" y2="720.3" stroke="#000" stroke-width="1.75"/>
<line x1="1559.23" y1="249.5" x2="1559.23" y2="720.3" stroke="#000" stroke-width="1.75"/>
<line x1="1572.50" y1="249.5" x2="1572.50" y2="720.3" stroke="#000" stroke-width="1.75"/>
<line x1="1584.38" y1="249.5" x2="1584.38" y2="720.3" stroke="#000" stroke-width="1.75"/>
<line x1="1662.49" y1="249.5" x2="1662.49" y2="720.3" stroke="#000" stroke-width="1.75"/>
<line x1="1708.18" y1="249.5" x2="1708.18" y2="720.3" stroke="#000" stroke-width="1.75"/>
<line x1="1740.60" y1="249.5" x2="1740.60" y2="720.3" stroke="#000" stroke-width="1.75"/>
<line x1="1765.75" y1="249.5" x2="1765.75" y2="720.3" stroke="#000" stroke-width="1.75"/>
<line x1="1786.30" y1="249.5" x2="1786.30" y2="720.3" stroke="#000" stroke-width="1.75"/>
<line x1="1803.67" y1="249.5" x2="1803.67" y2="720.3" stroke="#000" stroke-width="1.75"/>
<line x1="1818.72" y1="249.5" x2="1818.72" y2="720.3" stroke="#000" stroke-width="1.75"/>
<line x1="1831.99" y1="249.5" x2="1831.99" y2="720.3" stroke="#000" stroke-width="1.75"/>
<line x1="1843.87" y1="249.5" x2="1843.87" y2="720.3" stroke="#000" stroke-width="1.75"/>
<line x1="1921.98" y1="249.5" x2="1921.98" y2="720.3" stroke="#000" stroke-width="1.75"/>
<line x1="1967.67" y1="249.5" x2="1967.67" y2="720.3" stroke="#000" stroke-width="1.75"/>
<line x1="2000.10" y1="249.5" x2="2000.10" y2="720.3" stroke="#000" stroke-width="1.75"/>
<line x1="2025.24" y1="249.5" x2="2025.24" y2="720.3" stroke="#000" stroke-width="1.75"/>
<line x1="2045.79" y1="249.5" x2="2045.79" y2="720.3" stroke="#000" stroke-width="1.75"/>
<line x1="2063.16" y1="249.5" x2="2063.16" y2="720.3" stroke="#000" stroke-width="1.75"/>
<line x1="2078.21" y1="249.5" x2="2078.21" y2="720.3" stroke="#000" stroke-width="1.75"/>
<line x1="2091.48" y1="249.5" x2="2091.48" y2="720.3" stroke="#000" stroke-width="1.75"/>
<line x1="2103.36" y1="249.5" x2="2103.36" y2="720.3" stroke="#000" stroke-width="1.75"/>
<line x1="2181.47" y1="249.5" x2="2181.47" y2="720.3" stroke="#000" stroke-width="1.75"/>
<line x1="2227.17" y1="249.5" x2="2227.17" y2="720.3" stroke="#000" stroke-width="1.75"/>
<line x1="2259.59" y1="249.5" x2="2259.59" y2="720.3" stroke="#000" stroke-width="1.75"/>
<line x1="2284.73" y1="249.5" x2="2284.73" y2="720.3" stroke="#000" stroke-width="1.75"/>
<line x1="2305.28" y1="249.5" x2="2305.28" y2="720.3" stroke="#000" stroke-width="1.75"/>
<line x1="2322.65" y1="249.5" x2="2322.65" y2="720.3" stroke="#000" stroke-width="1.75"/>
<line x1="1403.0" y1="296.58" x2="2337.7" y2="296.58" stroke="#000" stroke-width="1.75"/>
<line x1="1403.0" y1="343.66" x2="2337.7" y2="343.66" stroke="#000" stroke-width="1.75"/>
<line x1="1403.0" y1="390.74" x2="2337.7" y2="390.74" stroke="#000" stroke-width="1.75"/>
<line x1="1403.0" y1="437.82" x2="2337.7" y2="437.82" stroke="#000" stroke-width="1.75"/>
<line x1="1403.0" y1="484.90" x2="2337.7" y2="484.90" stroke="#000" stroke-width="1.75"/>
<line x1="1403.0" y1="531.98" x2="2337.7" y2="531.98" stroke="#000" stroke-width="1.75"/>
<line x1="1403.0" y1="579.06" x2="2337.7" y2="579.06" stroke="#000" stroke-width="1.75"/>
<line x1="1403.0" y1="626.14" x2="2337.7" y2="626.14" stroke="#000" stroke-width="1.75"/>
<line x1="1403.0" y1="673.22" x2="2337.7" y2="673.22" stroke="#000" stroke-width="1.75"/>
<line x1="1403.0" y1="258.92" x2="1410.5" y2="258.92" stroke="#000" stroke-width="1.75"/>
<line x1="1403.0" y1="268.33" x2="1410.5" y2="268.33" stroke="#000" stroke-width="1.75"/>
<line x1="1403.0" y1="277.75" x2="1410.5" y2="277.75" stroke="#000" stroke-width="1.75"/>
<line x1="1403.0" y1="287.16" x2="1410.5" y2="287.16" stroke="#000" stroke-width="1.75"/>
<line x1="1403.0" y1="306.00" x2="1410.5" y2="306.00" stroke="#000" stroke-width="1.75"/>
<line x1="1403.0" y1="315.41" x2="1410.5" y2="315.41" stroke="#000" stroke-width="1.75"/>
<line x1="1403.0" y1="324.83" x2="1410.5" y2="324.83" stroke="#000" stroke-width="1.75"/>
<line x1="1403.0" y1="334.24" x2="1410.5" y2="334.24" stroke="#000" stroke-width="1.75"/>
<line x1="1403.0" y1="353.08" x2="1410.5" y2="353.08" stroke="#000" stroke-width="1.75"/>
<line x1="1403.0" y1="362.49" x2="1410.5" y2="362.49" stroke="#000" stroke-width="1.75"/>
<line x1="1403.0" y1="371.91" x2="1410.5" y2="371.91" stroke="#000" stroke-width="1.75"/>
<line x1="1403.0" y1="381.32" x2="1410.5" y2="381.32" stroke="#000" stroke-width="1.75"/>
<line x1="1403.0" y1="400.16" x2="1410.5" y2="400.16" stroke="#000" stroke-width="1.75"/>
<line x1="1403.0" y1="409.57" x2="1410.5" y2="409.57" stroke="#000" stroke-width="1.75"/>
<line x1="1403.0" y1="418.99" x2="1410.5" y2="418.99" stroke="#000" stroke-width="1.75"/>
<line x1="1403.0" y1="428.40" x2="1410.5" y2="428.40" stroke="#000" stroke-width="1.75"/>
<line x1="1403.0" y1="447.24" x2="1410.5" y2="447.24" stroke="#000" stroke-width="1.75"/>
<line x1="1403.0" y1="456.65" x2="1410.5" y2="456.65" stroke="#000" stroke-width="1.75"/>
<line x1="1403.0" y1="466.07" x2="1410.5" y2="466.07" stroke="#000" stroke-width="1.75"/>
<line x1="1403.0" y1="475.48" x2="1410.5" y2="475.48" stroke="#000" stroke-width="1.75"/>
<line x1="1403.0" y1="494.32" x2="1410.5" y2="494.32" stroke="#000" stroke-width="1.75"/>
<line x1="1403.0" y1="503.73" x2="1410.5" y2="503.73" stroke="#000" stroke-width="1.75"/>
<line x1="1403.0" y1="513.15" x2="1410.5" y2="513.15" stroke="#000" stroke-width="1.75"/>
<line x1="1403.0" y1="522.56" x2="1410.5" y2="522.56" stroke="#000" stroke-width="1.75"/>
<line x1="1403.0" y1="541.40" x2="1410.5" y2="541.40" stroke="#000" stroke-width="1.75"/>
<line x1="1403.0" y1="550.81" x2="1410.5" y2="550.81" stroke="#000" stroke-width="1.75"/>
<line x1="1403.0" y1="560.23" x2="1410.5" y2="560.23" stroke="#000" stroke-width="1.75"/>
<line x1="1403.0" y1="569.64" x2="1410.5" y2="569.64" stroke="#000" stroke-width="1.75"/>
<line x1="1403.0" y1="588.48" x2="1410.5" y2="588.48" stroke="#000" stroke-width="1.75"/>
<line x1="1403.0" y1="597.89" x2="1410.5" y2="597.89" stroke="#000" stroke-width="1.75"/>
<line x1="1403.0" y1="607.31" x2="1410.5" y2="607.31" stroke="#000" stroke-width="1.75"/>
<line x1="1403.0" y1="616.72" x2="1410.5" y2="616.72" stroke="#000" stroke-width="1.75"/>
<line x1="1403.0" y1="635.56" x2="1410.5" y2="635.56" stroke="#000" stroke-width="1.75"/>
<line x1="1403.0" y1="644.97" x2="1410.5" y2="644.97" stroke="#000" stroke-width="1.75"/>
<line x1="1403.0" y1="654.39" x2="1410.5" y2="654.39" stroke="#000" stroke-width="1.75"/>
<line x1="1403.0" y1="663.80" x2="1410.5" y2="663.80" stroke="#000" stroke-width="1.75"/>
<line x1="1403.0" y1="682.64" x2="1410.5" y2="682.64" stroke="#000" stroke-width="1.75"/>
<line x1="1403.0" y1="692.05" x2="1410.5" y2="692.05" stroke="#000" stroke-width="1.75"/>
<line x1="1403.0" y1="701.47" x2="1410.5" y2="701.47" stroke="#000" stroke-width="1.75"/>
<line x1="1403.0" y1="710.88" x2="1410.5" y2="710.88" stroke="#000" stroke-width="1.75"/>
<rect x="1403.0" y="249.5" width="934.70" height="470.80" fill="none" stroke="#000" stroke-width="1.9"/>
<text x="1400.00" y="254.70" font-size="13.2" text-anchor="end" fill="#2a2a2a" font-weight="normal" textLength="15.05" lengthAdjust="spacingAndGlyphs">+5</text>
<text x="1400.00" y="301.78" font-size="13.2" text-anchor="end" fill="#2a2a2a" font-weight="normal" textLength="15.05" lengthAdjust="spacingAndGlyphs">+4</text>
<text x="1400.00" y="348.86" font-size="13.2" text-anchor="end" fill="#2a2a2a" font-weight="normal" textLength="15.05" lengthAdjust="spacingAndGlyphs">+3</text>
<text x="1400.00" y="395.94" font-size="13.2" text-anchor="end" fill="#2a2a2a" font-weight="normal" textLength="15.05" lengthAdjust="spacingAndGlyphs">+2</text>
<text x="1400.00" y="443.02" font-size="13.2" text-anchor="end" fill="#2a2a2a" font-weight="normal" textLength="15.05" lengthAdjust="spacingAndGlyphs">+1</text>
<text x="1400.00" y="490.10" font-size="13.2" text-anchor="end" fill="#2a2a2a" font-weight="normal" textLength="15.05" lengthAdjust="spacingAndGlyphs">+0</text>
<text x="1400.00" y="537.18" font-size="13.2" text-anchor="end" fill="#2a2a2a" font-weight="normal" textLength="11.74" lengthAdjust="spacingAndGlyphs">-1</text>
<text x="1400.00" y="584.26" font-size="13.2" text-anchor="end" fill="#2a2a2a" font-weight="normal" textLength="11.74" lengthAdjust="spacingAndGlyphs">-2</text>
<text x="1400.00" y="631.34" font-size="13.2" text-anchor="end" fill="#2a2a2a" font-weight="normal" textLength="11.74" lengthAdjust="spacingAndGlyphs">-3</text>
<text x="1400.00" y="678.42" font-size="13.2" text-anchor="end" fill="#2a2a2a" font-weight="normal" textLength="11.74" lengthAdjust="spacingAndGlyphs">-4</text>
<text x="1400.00" y="725.50" font-size="13.2" text-anchor="end" fill="#2a2a2a" font-weight="normal" textLength="11.74" lengthAdjust="spacingAndGlyphs">-5</text>
<text x="1403.80" y="739.80" font-size="14" text-anchor="middle" fill="#2a2a2a" font-weight="normal" textLength="15.57" lengthAdjust="spacingAndGlyphs">20</text>
<text x="1507.06" y="739.80" font-size="14" text-anchor="middle" fill="#2a2a2a" font-weight="normal" textLength="15.57" lengthAdjust="spacingAndGlyphs">50</text>
<text x="1585.18" y="739.80" font-size="14" text-anchor="middle" fill="#2a2a2a" font-weight="normal" textLength="23.36" lengthAdjust="spacingAndGlyphs">100</text>
<text x="1663.29" y="739.80" font-size="14" text-anchor="middle" fill="#2a2a2a" font-weight="normal" textLength="23.36" lengthAdjust="spacingAndGlyphs">200</text>
<text x="1766.55" y="739.80" font-size="14" text-anchor="middle" fill="#2a2a2a" font-weight="normal" textLength="23.36" lengthAdjust="spacingAndGlyphs">500</text>
<text x="1844.67" y="739.80" font-size="14" text-anchor="middle" fill="#2a2a2a" font-weight="normal" textLength="14.79" lengthAdjust="spacingAndGlyphs">1k</text>
<text x="1922.78" y="739.80" font-size="14" text-anchor="middle" fill="#2a2a2a" font-weight="normal" textLength="14.79" lengthAdjust="spacingAndGlyphs">2k</text>
<text x="2026.04" y="739.80" font-size="14" text-anchor="middle" fill="#2a2a2a" font-weight="normal" textLength="14.79" lengthAdjust="spacingAndGlyphs">5k</text>
<text x="2104.16" y="739.80" font-size="14" text-anchor="middle" fill="#2a2a2a" font-weight="normal" textLength="22.57" lengthAdjust="spacingAndGlyphs">10k</text>
<text x="2182.27" y="739.80" font-size="14" text-anchor="middle" fill="#2a2a2a" font-weight="normal" textLength="22.57" lengthAdjust="spacingAndGlyphs">20k</text>
<text x="2285.53" y="739.80" font-size="14" text-anchor="middle" fill="#2a2a2a" font-weight="normal" textLength="22.57" lengthAdjust="spacingAndGlyphs">50k</text>
<text x="2324.20" y="739.80" font-size="14" text-anchor="middle" fill="#2a2a2a" font-weight="normal" textLength="22.57" lengthAdjust="spacingAndGlyphs">80k</text>
<text x="1870.00" y="761.30" font-size="13" text-anchor="middle" fill="#2a2a2a" font-weight="normal" textLength="15.89" lengthAdjust="spacingAndGlyphs">Hz</text>
<text x="1369.20" y="456.70" font-size="13" text-anchor="middle" fill="#2a2a2a" font-weight="normal" textLength="7.23" lengthAdjust="spacingAndGlyphs">d</text>
<text x="1369.20" y="473.70" font-size="13" text-anchor="middle" fill="#2a2a2a" font-weight="normal" textLength="8.67" lengthAdjust="spacingAndGlyphs">B</text>
<text x="1369.20" y="490.60" font-size="13" text-anchor="middle" fill="#2a2a2a" font-weight="normal" textLength="4.33" lengthAdjust="spacingAndGlyphs">r</text>
<text x="1369.20" y="524.50" font-size="13" text-anchor="middle" fill="#2a2a2a" font-weight="normal" textLength="8.67" lengthAdjust="spacingAndGlyphs">A</text>
<path d="M1402 484.5 L1450 484.8 L1520 486 L1600 485.6 L1700 485.3 L1800 485 L1880 485.5 L1920 486.5 L1948 487.4 L2000 486.5 L2024 486 L2100 486.5 L2180 488 L2226 491.4 L2259.4 497.2 L2284 498.2 L2305 504.6 L2322 510.6 L2338 541.2" fill="none" stroke="#0000ff" stroke-width="2.1" stroke-linejoin="round"/>
</svg>
</body></html>
